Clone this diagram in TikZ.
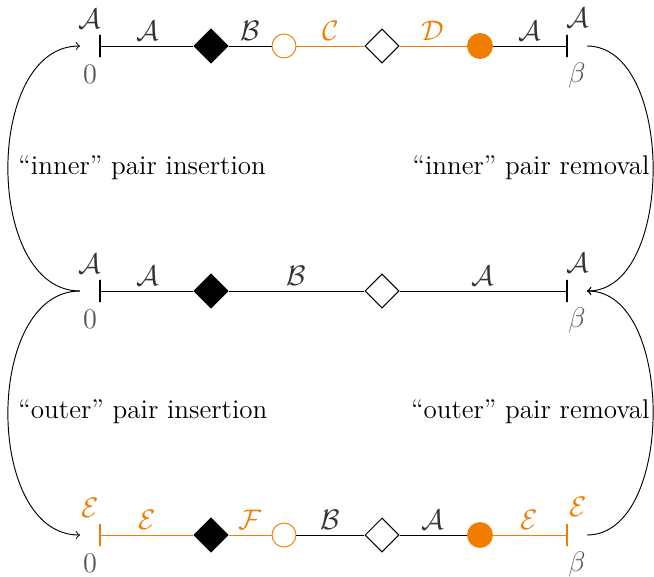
\documentclass[tikz,border=0pt]{standalone}
\usetikzlibrary{shapes.geometric}
\definecolor{myorange}{RGB}{240,125,0}
\definecolor{lab}{gray}{0.2}
\definecolor{endlab}{gray}{0.33}
\tikzset{
  fdia/.style={diamond,fill=black,draw=black,inner sep=0pt,minimum width=14.5pt,minimum height=14.5pt},
  odia/.style={diamond,fill=white,draw=black,inner sep=0pt,minimum width=14.5pt,minimum height=14.5pt},
  ocirc/.style={circle,draw=myorange,fill=white,inner sep=0pt,minimum size=10.2pt},
  fcirc/.style={circle,fill=myorange,inner sep=0pt,minimum size=11pt},
  tickmark/.style={draw,line width=1.1pt,inner sep=0pt,minimum width=0pt,minimum height=9.4pt,rectangle},
  elab/.style={midway,above,text=lab,inner sep=2.2pt},
  vlab/.style={text=lab,inner sep=0pt},
  nlab/.style={text=endlab,inner sep=0pt},
  txt/.style={inner sep=0pt}
}
\begin{document}
\begin{tikzpicture}[x=0.425pt,y=-0.425pt,font=\fontsize{11.5}{14}\selectfont]
\useasboundingbox (0,0) rectangle (654,576);
% ---------- top row ----------
\node[tickmark] (a0) at (100,46) {};
\node[fdia] (a1) at (211,46) {};
\node[ocirc] (a2) at (284,46) {};
\node[odia] (a3) at (382,46) {};
\node[fcirc] (a4) at (480,46) {};
\node[tickmark] (a5) at (567,46) {};
\draw (a0) -- (a1) node[elab] {$\mathcal{A}$};
\draw (a1) -- (a2) node[elab] {$\mathcal{B}$};
\draw[myorange] (a2) -- (a3) node[elab,text=myorange] {$\mathcal{C}$};
\draw[myorange] (a3) -- (a4) node[elab,text=myorange] {$\mathcal{D}$};
\draw (a4) -- (a5) node[elab] {$\mathcal{A}$};
\node[vlab] (a0t) at (90,19) {$\mathcal{A}$};
\node[nlab] (a0b) at (90,74) {$0$};
\node[vlab] (a5t) at (578,18) {$\mathcal{A}$};
\node[nlab] (a5b) at (577,75) {$\beta$};
% ---------- middle row ----------
\node[tickmark] (b0) at (100,291) {};
\node[fdia] (b1) at (211,291) {};
\node[odia] (b3) at (382,291) {};
\node[tickmark] (b5) at (567,291) {};
\draw (b0) -- (b1) node[elab] {$\mathcal{A}$};
\draw (b1) -- (b3) node[elab] {$\mathcal{B}$};
\draw (b3) -- (b5) node[elab] {$\mathcal{A}$};
\node[vlab] (b0t) at (90,264) {$\mathcal{A}$};
\node[nlab] (b0b) at (90,319) {$0$};
\node[vlab] (b5t) at (578,263) {$\mathcal{A}$};
\node[nlab] (b5b) at (577,320) {$\beta$};
% ---------- bottom row ----------
\node[tickmark,draw=myorange] (c0) at (100,535) {};
\node[fdia] (c1) at (211,535) {};
\node[ocirc] (c2) at (284,535) {};
\node[odia] (c3) at (382,535) {};
\node[fcirc] (c4) at (480,535) {};
\node[tickmark,draw=myorange] (c5) at (567,535) {};
\draw[myorange] (c0) -- (c1) node[elab,text=myorange] {$\mathcal{E}$};
\draw[myorange] (c1) -- (c2) node[elab,text=myorange] {$\mathcal{F}$};
\draw (c2) -- (c3) node[elab] {$\mathcal{B}$};
\draw (c3) -- (c4) node[elab] {$\mathcal{A}$};
\draw[myorange] (c4) -- (c5) node[elab,text=myorange] {$\mathcal{E}$};
\node[vlab,text=myorange] (c0t) at (90,508) {$\mathcal{E}$};
\node[nlab] (c0b) at (90,563) {$0$};
\node[vlab,text=myorange] (c5t) at (578,507) {$\mathcal{E}$};
\node[nlab] (c5b) at (577,564) {$\beta$};
% ---------- curved arrows ----------
\coordinate (lb) at (80,291);
\coordinate (lt) at (80,46);
\coordinate (ll) at (80,535);
\coordinate (rt) at (587,46);
\coordinate (rm) at (587,291);
\coordinate (rb) at (587,535);
\draw[->] (lb) .. controls (-16,291) and (-16,46) .. (lt);
\draw[->] (lb) .. controls (-16,291) and (-16,535) .. (ll);
\draw[->] (rt) .. controls (675,46) and (675,291) .. (rm);
\draw[->] (rb) .. controls (675,535) and (675,291) .. (rm);
\node[txt,anchor=west] (t1) at (18,168) {``inner'' pair insertion};
\node[txt,anchor=east] (t2) at (650,168) {``inner'' pair removal};
\node[txt,anchor=west] (t3) at (18,412) {``outer'' pair insertion};
\node[txt,anchor=east] (t4) at (650,412) {``outer'' pair removal};
\end{tikzpicture}
\end{document}
